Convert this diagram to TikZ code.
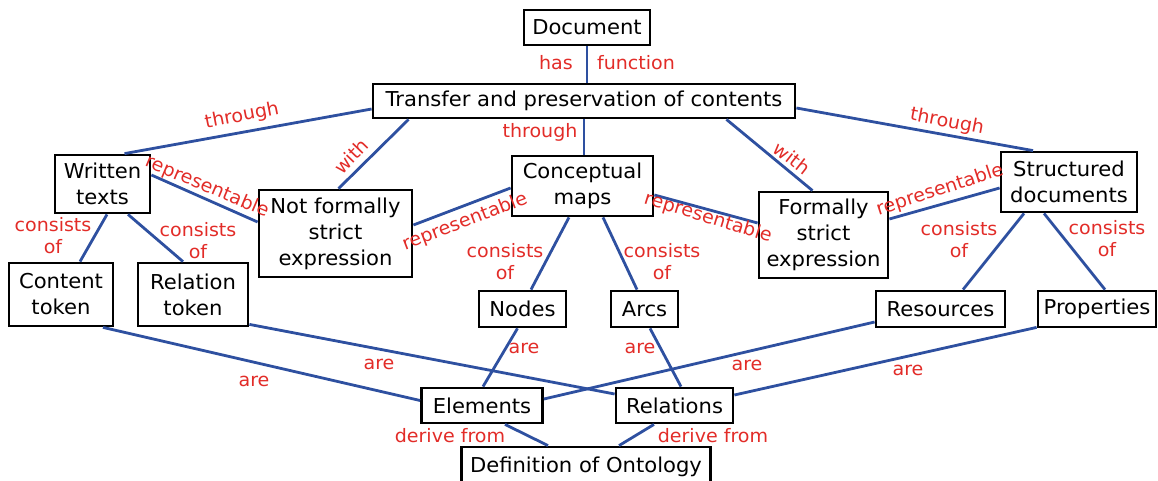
\documentclass[tikz,border=0pt]{standalone}
\usepackage{fontspec}
\setmainfont{DejaVu Sans}[FakeStretch=1.03]
\usetikzlibrary{calc}
\definecolor{lineblue}{RGB}{46,80,160}
\definecolor{labred}{RGB}{226,44,40}
\begin{document}
\begin{tikzpicture}[x=1pt,y=-1pt,
 box/.style={draw=black,line width=2.8pt,fill=white,inner sep=0pt,align=center,font=\fontsize{20.5}{26}\selectfont},
 conn/.style={draw=lineblue,line width=2.8pt},
 lab/.style={text=labred,inner sep=0pt,align=center,font=\fontsize{18.5}{22}\selectfont}]
\useasboundingbox (0,0) rectangle (1158,481);
% boxes
\node[box,minimum width=126pt,minimum height=35pt] (doc) at (587,27.5) {Document};
\node[box,minimum width=422pt,minimum height=34pt] (tr) at (584,101) {Transfer and preservation of contents};
\node[box,minimum width=95pt,minimum height=58pt] (wt) at (102.5,184) {Written\\texts};
\node[box,minimum width=153pt,minimum height=87pt] (nf) at (335.5,233.5) {Not formally\\strict\\expression};
\node[box,minimum width=141pt,minimum height=60pt] (cm) at (582.5,186) {Conceptual\\maps};
\node[box,minimum width=129pt,minimum height=86pt] (fs) at (823.5,235) {Formally\\strict\\expression};
\node[box,minimum width=136pt,minimum height=60pt] (sd) at (1069,182) {Structured\\documents};
\node[box,minimum width=104pt,minimum height=63pt] (ct) at (61,294.5) {Content\\token};
\node[box,minimum width=110pt,minimum height=63pt] (rt) at (193,294.5) {Relation\\token};
\node[box,minimum width=87pt,minimum height=36pt] (nd) at (522.5,309) {Nodes};
\node[box,minimum width=67pt,minimum height=36pt] (ar) at (644.5,309) {Arcs};
\node[box,minimum width=129pt,minimum height=36pt] (rs) at (940.5,309) {Resources};
\node[box,minimum width=118pt,minimum height=36pt] (pr) at (1097,309) {Properties};
\node[box,minimum width=121pt,minimum height=35pt] (el) at (482,405.5) {Elements};
\node[box,minimum width=117pt,minimum height=35pt] (rl) at (674.5,405.5) {Relations};
\node[box,minimum width=249pt,minimum height=40pt,text depth=2pt] (def) at (586,467) {\raisebox{3pt}{Definition of Ontology}};
% connectors
\draw[conn] (doc.south) -- (doc.south |- tr.north);
\draw[conn] ($(tr.west)+(0,8)$) -- ($(wt.north)+(22,0)$);
\draw[conn] ($(tr.south west)+(37,0)$) -- ($(nf.north)+(3,0)$);
\draw[conn] (tr.south) -- (tr.south |- cm.north);
\draw[conn] ($(tr.south east)+(-70,0)$) -- ($(fs.north)+(-11,0)$);
\draw[conn] ($(tr.east)+(0,7)$) -- ($(sd.north)+(-36,0)$);
\draw[conn] ($(wt.east)+(0,-9)$) -- ($(nf.west)+(0,-11.5)$);
\draw[conn] ($(cm.west)+(0,2)$) -- ($(nf.east)+(0,-8.5)$);
\draw[conn] ($(cm.east)+(0,9)$) -- ($(fs.west)+(0,-12)$);
\draw[conn] ($(sd.west)+(0,6)$) -- ($(fs.east)+(0,-16)$);
\draw[conn] ($(wt.south)+(4.5,0)$) -- ($(ct.north)+(19,0)$);
\draw[conn] ($(wt.south)+(25.5,0)$) -- ($(rt.north)+(-10,0)$);
\draw[conn] ($(cm.south)+(-13.5,0)$) -- ($(nd.north)+(8.5,0)$);
\draw[conn] ($(cm.south)+(20.5,0)$) -- ($(ar.north)+(-7.5,0)$);
\draw[conn] ($(sd.south)+(-45,0)$) -- ($(rs.north)+(22.5,0)$);
\draw[conn] ($(sd.south)+(-25,0)$) -- ($(pr.north)+(8,0)$);
\draw[conn] ($(ct.south)+(42,0)$) -- ($(el.west)+(0,-5)$);
\draw[conn] ($(rt.south east)+(0,-3)$) -- ($(rl.west)+(0,-11.5)$);
\draw[conn] ($(nd.south)+(-5,0)$) -- ($(el.north)+(1,0)$);
\draw[conn] ($(el.east)+(0,-6.5)$) -- ($(rs.west)+(0,13)$);
\draw[conn] ($(ar.south)+(5.5,0)$) -- ($(rl.north)+(6.5,0)$);
\draw[conn] ($(pr.south west)+(0,-1)$) -- ($(rl.east)+(0,-10.5)$);
\draw[conn] ($(el.south)+(23,0)$) -- ($(def.north)+(-38,0)$);
\draw[conn] ($(rl.south)+(-20.5,0)$) -- ($(def.north)+(33,0)$);
% labels
\node[lab] (lhas) at (556,63) {has};
\node[lab] (lfun) at (636,63) {function};
\node[lab,rotate=11] (lth1) at (242,116) {through};
\node[lab,rotate=46] (lw1) at (351,156) {with};
\node[lab] (lth2) at (540,132) {through};
\node[lab,rotate=-38] (lw2) at (792,158) {with};
\node[lab,rotate=-11] (lth3) at (947,122) {through};
\node[lab,rotate=-23] (lr1) at (207,187) {representable};
\node[lab,rotate=21] (lr2) at (465,222) {representable};
\node[lab,rotate=-17] (lr3) at (708,218) {representable};
\node[lab,rotate=18] (lr4) at (940,190) {representable};
\node[lab] (lc1) at (53,236) {consists\\of};
\node[lab] (lc2) at (198,241) {consists\\of};
\node[lab] (lc3) at (505,262) {consists\\of};
\node[lab] (lc4) at (662,262) {consists\\of};
\node[lab] (lc5) at (959,240) {consists\\of};
\node[lab] (lc6) at (1107,239) {consists\\of};
\node[lab] (la1) at (254,381) {are};
\node[lab] (la2) at (379,364) {are};
\node[lab] (la3) at (524,348) {are};
\node[lab] (la4) at (640,348) {are};
\node[lab] (la5) at (747,365) {are};
\node[lab] (la6) at (908,370) {are};
\node[lab] (ld1) at (450,436) {derive from};
\node[lab] (ld2) at (713,436) {derive from};
\end{tikzpicture}
\end{document}
